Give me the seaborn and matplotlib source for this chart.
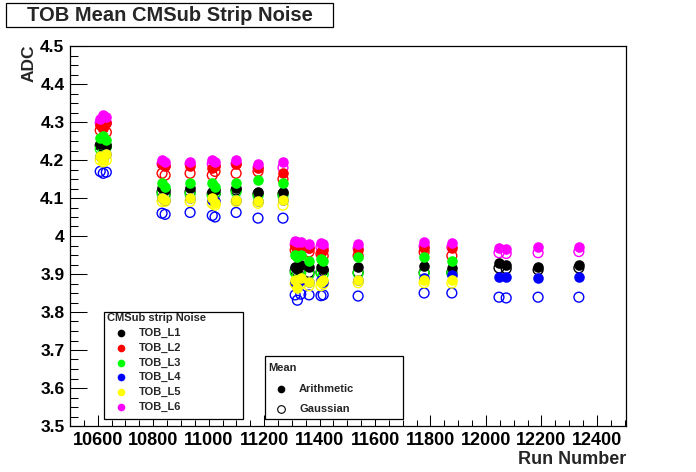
import numpy as np
import pandas as pd
import matplotlib
matplotlib.use("Agg")
import matplotlib.pyplot as plt
from matplotlib.lines import Line2D
from matplotlib.patches import Rectangle
from matplotlib.ticker import MultipleLocator, FuncFormatter
import seaborn as sns

nan = np.nan

# run numbers
runs = [10609, 10620, 10631, 10832, 10843, 10933, 11013, 11023, 11099, 11178,
        11268, 11312, 11320, 11332, 11362, 11405, 11413, 11539, 11777, 11877,
        12047, 12073, 12188, 12335]

# arithmetic means (filled markers)
l1_arith = [4.243, 4.248, 4.238, 4.126, 4.121, 4.126, 4.116, 4.121, 4.126, 4.116, 4.116,
            3.919, 3.914, 3.924, 3.919, 3.919, 3.914, 3.919, 3.921, 3.916, 3.929, 3.924, 3.919, 3.924]
l2_arith = [4.293, 4.288, 4.298, 4.19, 4.185, 4.185, 4.18, 4.185, 4.19, 4.18, 4.165,
            3.973, 3.968, 3.973, 3.968, 3.958, 3.963, 3.963, 3.968, 3.968, nan, nan, nan, nan]
l3_arith = [4.258, 4.263, 4.253, 4.14, 4.13, 4.14, 4.14, 4.13, 4.14, 4.147, 4.14,
            3.949, 3.944, 3.949, 3.934, 3.939, 3.934, 3.944, 3.944, 3.934, nan, nan, nan, nan]
l4_arith = [4.21, 4.205, 4.215, 4.10, 4.096, 4.10, 4.096, 4.091, 4.096, 4.091, 4.096,
            3.879, 3.874, 3.884, 3.879, 3.884, 3.879, 3.884, 3.889, 3.897, 3.892, 3.892, 3.889, 3.892]
l5_arith = [4.21, 4.20, 4.215, 4.10, 4.096, 4.10, 4.10, 4.086, 4.096, 4.091, 4.096,
            3.884, 3.862, 3.889, 3.879, 3.879, 3.884, 3.884, 3.884, 3.884, nan, nan, nan, nan]
l6_arith = [4.308, 4.318, 4.313, 4.20, 4.195, 4.195, 4.20, 4.195, 4.20, 4.19, 4.195,
            3.988, 3.983, 3.983, 3.978, 3.981, 3.978, 3.978, 3.983, 3.981, 3.969, 3.966, 3.971, 3.971]

# gaussian means (open markers)
l1_gauss = [4.238, 4.233, 4.238, 4.116, 4.111, 4.116, 4.111, 4.111, 4.121, 4.111, 4.111,
            3.909, 3.904, 3.909, 3.904, 3.904, 3.909, 3.904, 3.904, 3.904, 3.916, 3.914, 3.911, 3.916]
l2_gauss = [4.278, 4.283, 4.273, 4.165, 4.16, 4.165, 4.16, 4.17, 4.165, 4.17, 4.15,
            3.963, 3.958, 3.963, 3.958, 3.953, 3.948, 3.948, 3.958, 3.948, nan, nan, nan, nan]
l3_gauss = [4.229, 4.224, 4.234, 4.111, 4.106, 4.111, 4.106, 4.111, 4.116, 4.106, 4.106,
            3.904, 3.899, 3.904, 3.899, 3.904, 3.899, 3.902, 3.902, 3.902, nan, nan, nan, nan]
l4_gauss = [4.17, 4.165, 4.168, 4.06, 4.057, 4.062, 4.054, 4.05, 4.062, 4.047, 4.047,
            3.845, 3.831, 3.847, 3.845, 3.843, 3.845, 3.842, 3.85, 3.85, 3.839, 3.837, 3.839, 3.839]
l5_gauss = [4.20, 4.195, 4.20, 4.091, 4.091, 4.091, 4.086, 4.081, 4.091, 4.086, 4.081,
            3.874, 3.869, 3.874, 3.869, 3.869, 3.874, 3.877, 3.877, 3.876, nan, nan, nan, nan]
l6_gauss = [4.298, 4.303, 4.298, 4.19, 4.185, 4.19, 4.19, 4.185, 4.19, 4.18, 4.18,
            3.978, 3.973, 3.973, 3.968, 3.971, 3.968, 3.968, 3.973, 3.971, 3.956, 3.954, 3.956, 3.959]

layers = ["TOB_L1", "TOB_L2", "TOB_L3", "TOB_L4", "TOB_L5", "TOB_L6"]
layer_colors = ["#000000", "#ff0000", "#00ff00", "#0000ff", "#ffff00", "#ff00ff"]
arith = [l1_arith, l2_arith, l3_arith, l4_arith, l5_arith, l6_arith]
gauss = [l1_gauss, l2_gauss, l3_gauss, l4_gauss, l5_gauss, l6_gauss]

rows = []
for name, ar, ga in zip(layers, arith, gauss):
    for r, a, g in zip(runs, ar, ga):
        rows.append((name, "Arithmetic", r, a))
        rows.append((name, "Gaussian", r, g))
df = pd.DataFrame(rows, columns=["layer", "mean", "run", "adc"]).dropna()

W, H = 696, 472
sns.set_theme(style="white")
plt.rcParams["font.family"] = ["Liberation Sans", "DejaVu Sans"]
plt.rcParams["font.weight"] = "bold"


def fx(px):
    return px / W


def fy(py):
    return 1 - py / H


fig = plt.figure(figsize=(W / 100, H / 100), dpi=100)
ax = fig.add_axes([fx(70), fy(426), 556 / W, 380 / H])

# open (gaussian) markers first, filled (arithmetic) on top
for name, col in zip(layers, layer_colors):
    d = df[(df["layer"] == name) & (df["mean"] == "Gaussian")]
    sns.scatterplot(data=d, x="run", y="adc", color=col, facecolor="none", edgecolor=col,
                    s=50, linewidth=1.0, ax=ax, legend=False, zorder=3)
for name, col in zip(layers, layer_colors):
    d = df[(df["layer"] == name) & (df["mean"] == "Arithmetic")]
    sns.scatterplot(data=d, x="run", y="adc", color=col, s=58, linewidth=0,
                    ax=ax, legend=False, zorder=4)

ax.set_xlim(10500, 12505)
ax.set_ylim(3.5, 4.5)
ax.set_xlabel("")
ax.set_ylabel("")
ax.xaxis.set_major_locator(MultipleLocator(200))
ax.xaxis.set_minor_locator(MultipleLocator(50))
ax.yaxis.set_major_locator(MultipleLocator(0.1))
ax.yaxis.set_minor_locator(MultipleLocator(0.025))
ax.yaxis.set_major_formatter(FuncFormatter(lambda v, p: "%g" % round(v, 2)))
ax.tick_params(axis="x", which="major", direction="in", length=8, width=0.75,
               labelsize=13, pad=4, color="black", labelcolor="black")
ax.tick_params(axis="x", which="minor", direction="in", length=4, width=0.75, color="black")
ax.tick_params(axis="y", which="major", direction="in", length=12, width=0.75,
               labelsize=12.5, pad=4, color="black", labelcolor="black")
ax.tick_params(axis="y", which="minor", direction="in", length=6, width=0.75, color="black")
ax.tick_params(bottom=True, left=True, top=False, right=False, which="both")
for sp in ax.spines.values():
    sp.set_color("black")
    sp.set_linewidth(0.9)

fig.text(fx(29), fy(45), "ADC", rotation=90, ha="center", va="top", fontsize=12.5,
         fontweight="bold")
fig.text(fx(626), fy(459), "Run Number", ha="right", va="center", fontsize=13,
         fontweight="bold")

# title box
fig.add_artist(Rectangle((fx(6), fy(27)), 327 / W, 24 / H, transform=fig.transFigure,
                         facecolor="white", edgecolor="black", linewidth=0.9))
fig.text(fx(170), fy(15.5), "TOB Mean CMSub Strip Noise", ha="center", va="center",
         fontsize=14.5, fontweight="bold")

# legend 1: layers
fig.add_artist(Rectangle((fx(104), fy(419)), 139 / W, 107 / H, transform=fig.transFigure,
                         facecolor="white", edgecolor="black", linewidth=0.9, zorder=5))
fig.text(fx(107), fy(318), "CMSub strip Noise", ha="left", va="center", fontsize=8,
         fontweight="bold", zorder=6)
for i, (name, col) in enumerate(zip(layers, layer_colors)):
    yy = 333 + i * 14.8
    fig.add_artist(Line2D([fx(121)], [fy(yy)], marker="o", markersize=5.5, color=col,
                          markeredgewidth=0, transform=fig.transFigure, zorder=6))
    fig.text(fx(139), fy(yy), name, ha="left", va="center", fontsize=8,
             fontweight="bold", zorder=6)

# legend 2: mean type
fig.add_artist(Rectangle((fx(265), fy(419)), 138 / W, 63 / H, transform=fig.transFigure,
                         facecolor="white", edgecolor="black", linewidth=0.9, zorder=5))
fig.text(fx(268), fy(368), "Mean", ha="left", va="center", fontsize=8,
         fontweight="bold", zorder=6)
fig.add_artist(Line2D([fx(281)], [fy(389)], marker="o", markersize=5.5, color="black",
                      markeredgewidth=0, transform=fig.transFigure, zorder=6))
fig.text(fx(299), fy(389), "Arithmetic", ha="left", va="center", fontsize=8,
         fontweight="bold", zorder=6)
fig.add_artist(Line2D([fx(281)], [fy(409)], marker="o", markersize=5.5,
                      markerfacecolor="none", markeredgecolor="black", markeredgewidth=0.8,
                      transform=fig.transFigure, zorder=6))
fig.text(fx(299), fy(409), "Gaussian", ha="left", va="center", fontsize=8,
         fontweight="bold", zorder=6)

fig.savefig("out.png", dpi=100)
